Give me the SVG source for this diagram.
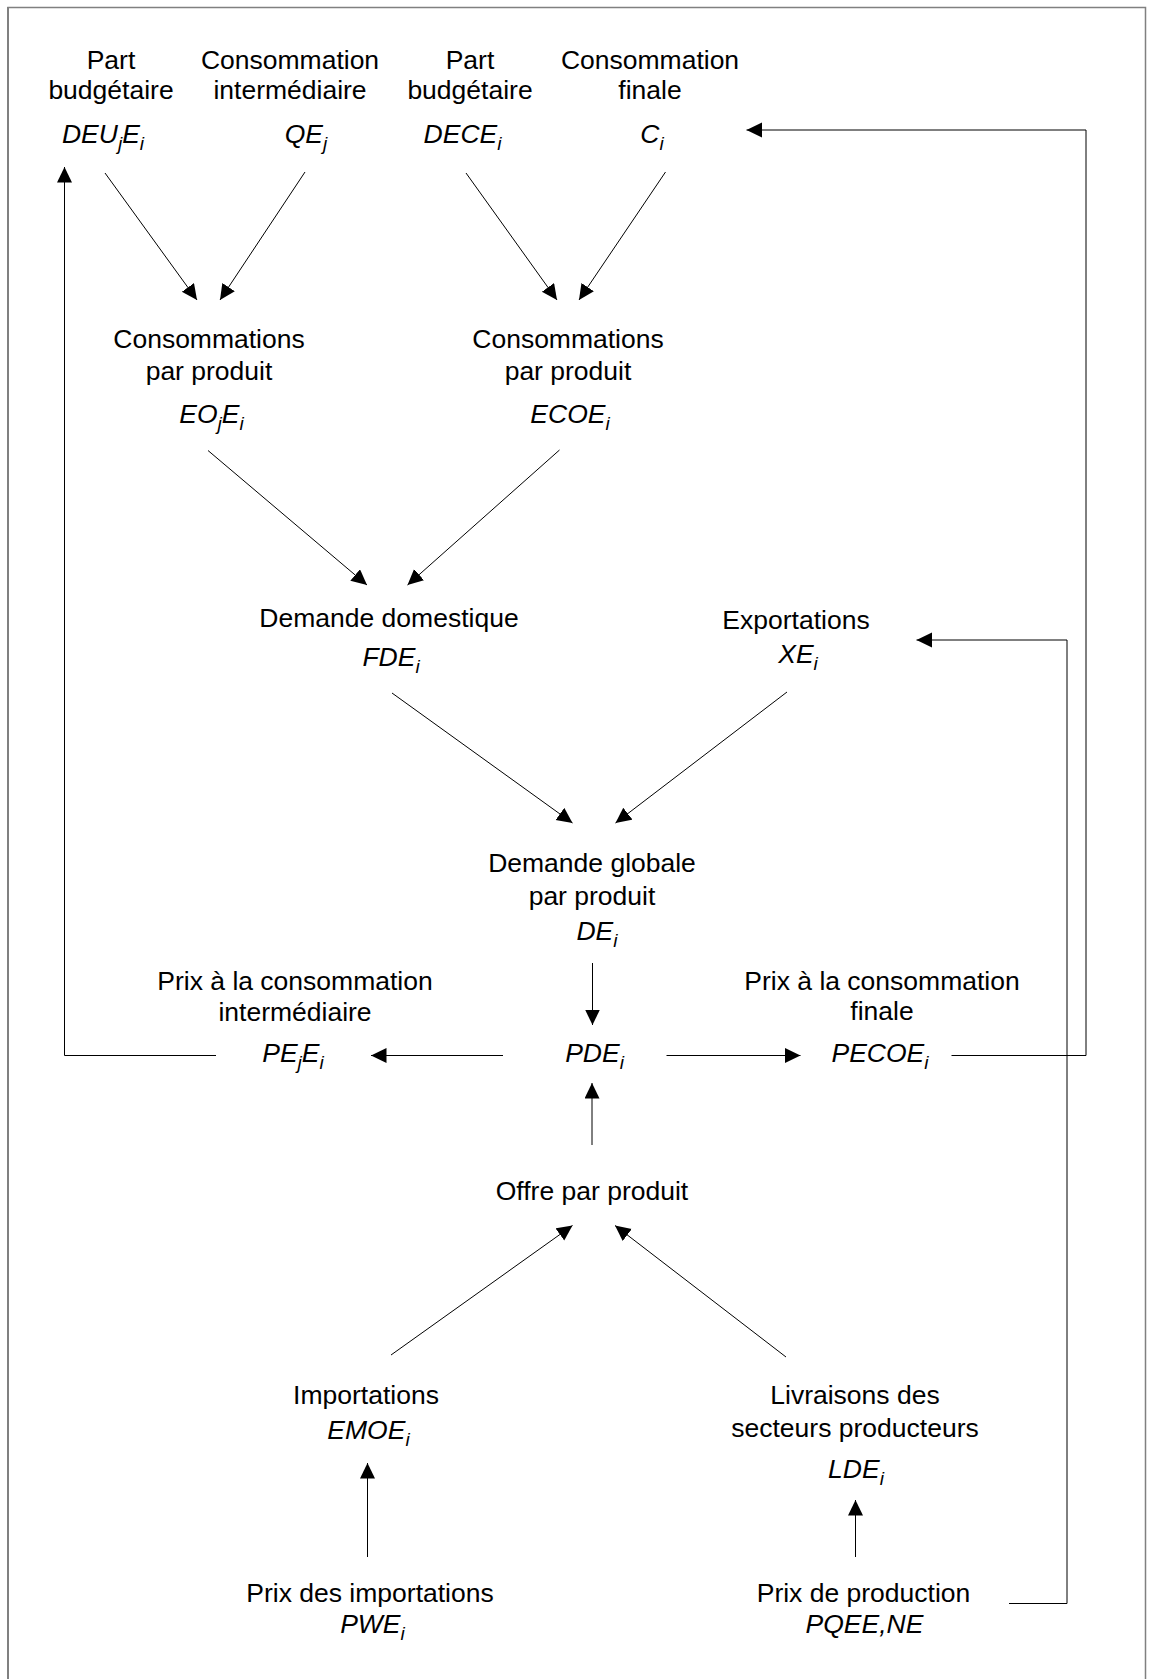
<svg xmlns="http://www.w3.org/2000/svg" width="1151" height="1679" viewBox="0 0 1151 1679">
<style>
text{font-family:"Liberation Sans",Arial,sans-serif;font-size:26.5px;fill:#000;text-anchor:middle}
.v{font-style:italic}
.s{font-size:19px}
.c{fill:none;stroke:#000;stroke-width:1}
.a{marker-end:url(#ah)}
</style>
<defs>
<marker id="ah" markerUnits="userSpaceOnUse" markerWidth="17" markerHeight="16" refX="15.5" refY="7.5" orient="auto">
<path d="M0,0 L15.5,7.5 L0,15 z" fill="#000"/>
</marker>
</defs>
<rect width="1151" height="1679" fill="#fff"/>
<g id="frame">
<path d="M8,1679 V7.5 H1145.5 V1679" fill="none" stroke="#808080" stroke-width="1.5"/>
<line x1="8" y1="7" x2="8" y2="1679" stroke="#808080" stroke-width="2"/>
</g>
<g id="connectors">
<line class="c a" x1="105" y1="173" x2="197" y2="300"/>
<line class="c a" x1="305" y1="172" x2="220" y2="300"/>
<line class="c a" x1="466" y1="173" x2="557" y2="300"/>
<line class="c a" x1="665.5" y1="172" x2="579" y2="300"/>
<line class="c a" x1="208" y1="450.5" x2="367" y2="585"/>
<line class="c a" x1="559.5" y1="450" x2="407.5" y2="585"/>
<line class="c a" x1="392" y1="693" x2="572.5" y2="823"/>
<line class="c a" x1="787" y1="692" x2="615.5" y2="823"/>
<line class="c a" x1="592.5" y1="963" x2="592.5" y2="1025"/>
<line class="c a" x1="503" y1="1055.5" x2="371" y2="1055.5"/>
<line class="c a" x1="666.5" y1="1055.5" x2="800.5" y2="1055.5"/>
<line class="c a" x1="592" y1="1145" x2="592" y2="1083"/>
<line class="c a" x1="391" y1="1355" x2="572.5" y2="1225.5"/>
<line class="c a" x1="786" y1="1357" x2="615" y2="1225.5"/>
<line class="c a" x1="367.5" y1="1557" x2="367.5" y2="1463"/>
<line class="c a" x1="855.5" y1="1557" x2="855.5" y2="1500"/>
<polyline class="c a" points="216,1055.5 64.5,1055.5 64.5,167"/>
<polyline class="c a" points="951.5,1055.5 1086,1055.5 1086,130 746.5,130"/>
<polyline class="c a" points="1009,1603.5 1067,1603.5 1067,640 916.5,640"/>
</g>
<g id="n-part1"><text x="111" y="69">Part</text><text x="111" y="99">budgétaire</text><text class="v" x="103" y="143">DEU<tspan class="s" dy="7">j</tspan><tspan dy="-7">E</tspan><tspan class="s" dy="7">i</tspan></text></g>
<g id="n-ci"><text x="290" y="69">Consommation</text><text x="290" y="99">intermédiaire</text><text class="v" x="306" y="143">QE<tspan class="s" dy="7">j</tspan></text></g>
<g id="n-part2"><text x="470" y="69">Part</text><text x="470" y="99">budgétaire</text><text class="v" x="462.5" y="143">DECE<tspan class="s" dy="7">i</tspan></text></g>
<g id="n-cf"><text x="650" y="69">Consommation</text><text x="650" y="99">finale</text><text class="v" x="652" y="143">C<tspan class="s" dy="7">i</tspan></text></g>
<g id="n-eoe"><text x="209" y="348">Consommations</text><text x="209" y="380">par produit</text><text class="v" x="211.5" y="423">EO<tspan class="s" dy="7">j</tspan><tspan dy="-7">E</tspan><tspan class="s" dy="7">i</tspan></text></g>
<g id="n-ecoe"><text x="568" y="348">Consommations</text><text x="568" y="380">par produit</text><text class="v" x="570" y="423">ECOE<tspan class="s" dy="7">i</tspan></text></g>
<g id="n-fde"><text x="389" y="627">Demande domestique</text><text class="v" x="391" y="666">FDE<tspan class="s" dy="7">i</tspan></text></g>
<g id="n-xe"><text x="796" y="629">Exportations</text><text class="v" x="798" y="663">XE<tspan class="s" dy="7">i</tspan></text></g>
<g id="n-de"><text x="592" y="872">Demande globale</text><text x="592" y="905">par produit</text><text class="v" x="597" y="940">DE<tspan class="s" dy="7">i</tspan></text></g>
<g id="n-pe"><text x="295" y="990">Prix à la consommation</text><text x="295" y="1021">intermédiaire</text><text class="v" x="293" y="1062">PE<tspan class="s" dy="7">j</tspan><tspan dy="-7">E</tspan><tspan class="s" dy="7">i</tspan></text></g>
<g id="n-pde"><text class="v" x="594.5" y="1062">PDE<tspan class="s" dy="7">i</tspan></text></g>
<g id="n-pecoe"><text x="882" y="990">Prix à la consommation</text><text x="882" y="1020">finale</text><text class="v" x="880" y="1062">PECOE<tspan class="s" dy="7">i</tspan></text></g>
<g id="n-offre"><text x="592" y="1200">Offre par produit</text></g>
<g id="n-emoe"><text x="366" y="1404">Importations</text><text class="v" x="368.5" y="1439">EMOE<tspan class="s" dy="7">i</tspan></text></g>
<g id="n-lde"><text x="855" y="1404">Livraisons des</text><text x="855" y="1437">secteurs producteurs</text><text class="v" x="856" y="1478">LDE<tspan class="s" dy="7">i</tspan></text></g>
<g id="n-pwe"><text x="370" y="1602">Prix des importations</text><text class="v" x="372.5" y="1633">PWE<tspan class="s" dy="7">i</tspan></text></g>
<g id="n-pqee"><text x="863.5" y="1602">Prix de production</text><text class="v" x="864.5" y="1633">PQEE,NE</text></g>
</svg>
